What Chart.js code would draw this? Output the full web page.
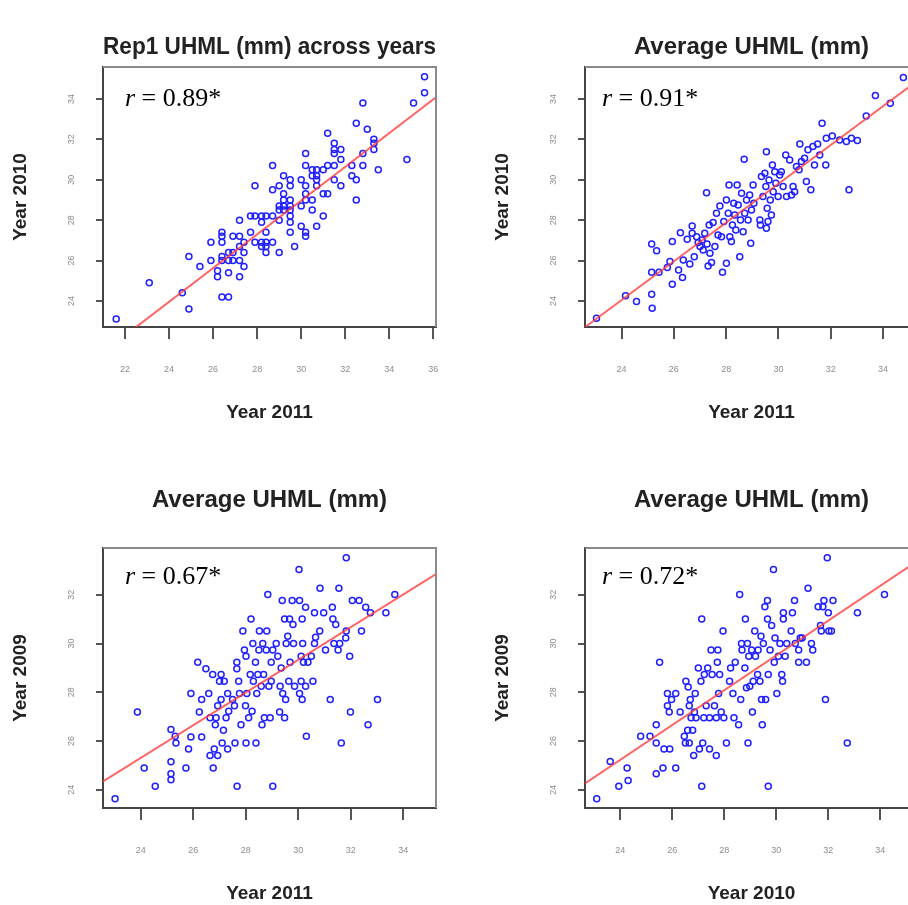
<!DOCTYPE html>
<html>
<head>
<meta charset="utf-8">
<title>UHML across years</title>
<script src="https://cdn.jsdelivr.net/npm/chart.js@4.4.0/dist/chart.umd.min.js"></script>
<style>
  html, body { margin: 0; padding: 0; background: #fff; overflow: hidden; }
  #wrap { position: relative; width: 908px; height: 905px; overflow: hidden; }
  canvas { position: absolute; }
</style>
</head>
<body>
<div id="wrap">
  <canvas id="p1" width="482" height="481" style="left:0;top:0"></canvas>
  <canvas id="p2" width="482" height="481" style="left:482px;top:0"></canvas>
  <canvas id="p3" width="482" height="481" style="left:0;top:481px"></canvas>
  <canvas id="p4" width="482" height="481" style="left:482px;top:481px"></canvas>
</div>
<script>
// panel 1: Rep1, 2011 vs 2010
var rep1_2011 = [21.6,23.1,24.6,24.9,24.9,25.4,25.9,25.9,26.2,26.2,
  26.4,26.4,26.4,26.4,26.4,26.4,26.7,26.7,26.7,26.7,26.9,26.9,26.9,
  27.2,27.2,27.2,27.2,27.2,27.4,27.4,27.4,27.7,27.7,27.9,27.9,27.9,
  28.2,28.2,28.2,28.2,28.4,28.4,28.4,28.4,28.4,28.7,28.7,28.7,28.7,
  29.0,29.0,29.0,29.0,29.0,29.2,29.2,29.2,29.2,29.2,
  29.5,29.5,29.5,29.5,29.5,29.5,29.5,29.5,29.7,30.0,30.0,30.0,
  30.2,30.2,30.2,30.2,30.2,30.2,30.2,30.5,30.5,30.5,30.5,
  30.7,30.7,30.7,30.7,30.7,31.0,31.0,31.0,31.2,31.2,31.2,
  31.5,31.5,31.5,31.5,31.5,31.8,31.8,31.8,32.3,32.3,32.5,32.5,32.5,
  32.8,32.8,32.8,33.0,33.3,33.3,33.3,33.5,34.8,35.1,35.6,35.6];
var rep1_2010 = [23.1,24.9,24.4,23.6,26.2,25.7,26.0,26.9,25.5,25.2,
  26.2,26.0,27.4,27.2,26.9,24.2,24.2,26.4,26.0,25.4,27.2,26.0,26.4,
  28.0,27.2,26.0,25.2,26.7,26.9,26.4,25.7,27.4,28.2,29.7,28.2,26.9,
  28.2,27.9,26.9,26.7,28.2,27.4,26.9,26.7,26.4,28.2,26.9,29.5,30.7,
  29.7,28.7,28.5,28.0,26.4,30.2,29.3,29.0,28.7,28.5,
  30.0,29.7,29.0,28.7,28.5,28.2,27.9,27.4,26.7,30.0,28.7,27.7,
  31.3,30.7,29.7,29.3,29.0,27.4,27.2,30.5,30.2,29.0,28.5,
  30.5,30.2,30.0,29.7,27.7,30.5,29.3,28.2,32.3,30.7,29.3,
  31.8,31.5,31.3,30.7,30.0,31.5,31.0,29.7,30.7,30.2,32.8,30.0,29.0,
  33.8,31.3,30.7,32.5,32.0,31.8,31.5,30.5,31.0,33.8,34.3,35.1];

// panel 2: average, 2011 vs 2010
var avgA_2011 = [23.04,24.15,24.57,25.15,25.17,25.15,25.43,25.15,25.34,25.75,
  25.85,25.94,25.94,26.18,26.25,26.33,26.36,26.51,26.61,26.7,
  26.7,26.78,26.87,26.93,27.0,27.08,27.12,27.18,27.25,27.27,
  27.31,27.35,27.38,27.44,27.5,27.57,27.63,27.69,27.76,27.82,
  27.86,27.91,28.01,28.01,28.08,28.11,28.14,28.2,28.24,28.29,
  28.33,28.37,28.42,28.46,28.52,28.55,28.59,28.65,28.69,28.71,
  28.78,28.84,28.9,28.94,28.97,29.03,29.06,29.29,29.31,29.35,
  29.41,29.48,29.52,29.54,29.54,29.57,29.6,29.64,29.69,29.73,
  29.77,29.8,29.86,29.9,29.99,30.05,30.11,30.18,30.28,30.31,
  30.43,30.5,30.56,30.62,30.69,30.79,30.82,30.88,31.0,31.07,
  31.13,31.24,31.32,31.38,31.5,31.58,31.67,31.81,31.83,32.06,
  32.34,32.6,32.7,32.79,33.02,33.36,33.71,34.28,34.78];
var avgA_2010 = [23.14,24.26,23.97,24.33,23.64,25.42,25.42,26.82,26.49,25.65,
  25.95,26.94,24.83,25.53,27.38,25.16,26.03,27.05,25.83,27.71,
  27.35,26.19,27.18,26.89,26.69,27.02,26.52,27.35,29.36,26.82,
  25.73,27.76,26.36,25.9,27.88,26.69,28.34,27.27,28.7,27.18,
  25.42,27.93,25.86,29.0,28.34,29.74,27.18,26.94,27.76,28.84,
  28.26,27.51,29.74,28.75,26.19,28.01,29.33,27.43,31.01,28.34,
  29.0,28.01,29.25,26.85,28.5,29.74,28.84,28.01,27.76,30.16,
  29.17,30.32,29.66,31.39,27.6,28.59,27.93,29.99,29.0,28.26,
  30.73,29.41,30.4,29.83,29.17,30.24,30.4,29.66,31.23,29.17,
  30.98,29.25,29.66,29.41,30.65,30.49,31.77,30.9,31.06,29.91,
  31.48,29.5,31.64,30.73,31.77,31.23,32.8,30.73,32.05,32.17,
  31.97,31.89,29.5,32.05,31.94,33.16,34.17,33.79,35.06];

// panel 3: average, 2011 vs 2009
var avgB_2011 = [23.02,23.87,24.13,24.55,25.15,25.15,25.15,25.15,25.31,25.34,
  25.72,25.82,25.91,25.91,26.17,26.23,26.32,26.32,26.48,26.59,
  26.64,26.64,26.74,26.76,26.8,26.84,26.87,26.93,26.93,27.0,
  27.06,27.06,27.1,27.15,27.18,27.25,27.31,27.31,27.35,27.5,
  27.57,27.59,27.66,27.66,27.67,27.73,27.76,27.82,27.89,27.95,
  27.99,28.01,28.01,28.04,28.11,28.17,28.2,28.24,28.27,28.29,
  28.37,28.39,28.42,28.46,28.5,28.52,28.59,28.62,28.65,28.68,
  28.71,28.78,28.8,28.84,28.88,28.93,28.97,28.97,29.03,29.03,
  29.16,29.22,29.29,29.31,29.35,29.39,29.41,29.48,29.48,29.52,
  29.54,29.6,29.64,29.67,29.69,29.77,29.8,29.82,29.86,30.03,
  30.05,30.05,30.11,30.11,30.15,30.15,30.17,30.2,30.28,30.28,
  30.31,30.37,30.5,30.56,30.62,30.62,30.66,30.82,30.83,30.97,
  31.04,31.22,31.3,31.32,31.36,31.43,31.52,31.55,31.58,31.64,
  31.81,31.83,31.83,31.96,31.99,32.06,32.32,32.41,32.57,32.66,
  32.75,33.02,33.34,33.68];
var avgB_2009 = [23.63,27.19,24.89,24.14,26.47,25.15,24.66,24.41,26.19,25.92,
  24.89,25.67,27.95,26.16,29.23,27.19,27.7,26.16,28.96,27.95,
  26.95,25.4,28.73,24.89,25.67,26.67,26.95,25.4,27.45,28.45,
  28.73,27.7,25.92,26.44,28.45,26.95,27.95,25.67,27.22,27.7,
  27.45,25.92,29.23,28.96,24.14,28.45,27.95,26.67,30.51,29.73,
  27.45,29.48,25.92,27.95,26.95,28.73,31.01,27.22,30.0,28.45,
  29.23,25.92,27.95,28.73,29.73,30.51,28.25,26.67,30.0,28.73,
  26.95,29.73,30.51,32.01,28.25,26.95,29.23,28.45,29.73,24.14,
  30.0,29.48,27.19,28.25,29.0,31.77,27.95,31.01,26.95,27.7,
  30.0,30.3,28.45,31.01,29.23,31.77,30.78,30.0,28.25,33.04,
  31.77,27.95,28.45,29.48,31.01,27.7,30.0,29.23,31.49,28.25,
  26.19,29.23,29.48,28.45,30.0,31.26,30.26,30.51,32.27,31.26,
  29.73,27.7,31.49,31.01,30.0,30.78,29.73,32.27,30.0,25.92,
  30.23,33.52,30.51,29.48,27.19,31.77,31.77,30.51,31.49,26.67,
  31.26,27.7,31.26,32.01];

// panel 4: average, 2010 vs 2009
var avgC_2010 = [23.09,23.61,23.94,24.26,24.3,24.78,25.14,25.38,25.38,25.38,
  25.51,25.64,25.68,25.81,25.81,25.88,25.9,25.97,26.13,26.13,
  26.3,26.46,26.5,26.52,26.59,26.61,26.65,26.65,26.69,26.72,
  26.78,26.82,26.85,26.88,26.91,27.0,27.04,27.1,27.13,27.13,
  27.17,27.21,27.23,27.3,27.36,27.43,27.43,27.49,27.53,27.62,
  27.69,27.69,27.73,27.75,27.78,27.82,27.88,27.95,27.98,28.08,
  28.2,28.24,28.33,28.37,28.42,28.55,28.59,28.63,28.66,28.68,
  28.79,28.81,28.85,28.89,28.91,28.94,28.98,29.05,29.08,29.11,
  29.17,29.2,29.28,29.3,29.37,29.41,29.43,29.46,29.5,29.56,
  29.59,29.66,29.66,29.69,29.69,29.76,29.82,29.89,29.92,29.95,
  30.02,30.08,30.14,30.21,30.24,30.27,30.27,30.34,30.4,30.57,
  30.62,30.7,30.73,30.86,30.86,30.92,30.99,31.16,31.22,31.35,
  31.4,31.61,31.7,31.73,31.79,31.83,31.89,31.96,32.0,32.02,
  32.12,32.18,32.73,33.12,34.16];
var avgC_2009 = [23.63,25.16,24.14,24.89,24.38,26.19,26.19,26.67,25.92,24.66,
  29.23,24.89,25.67,27.95,27.45,27.19,25.67,27.7,27.95,24.89,
  27.19,26.19,25.92,28.45,26.44,28.22,27.45,25.92,27.7,26.95,
  26.44,25.4,27.19,27.95,26.95,29.0,25.67,28.45,31.01,24.14,
  25.92,26.95,28.73,27.45,29.0,26.95,25.67,29.73,28.73,27.45,
  25.4,26.95,29.23,29.73,27.95,28.73,27.19,30.51,26.95,25.92,
  28.45,29.0,27.95,26.95,29.23,26.67,32.01,27.7,30.0,29.73,
  29.0,31.01,28.18,30.0,25.92,29.48,28.25,29.73,27.19,28.45,
  30.51,29.48,28.73,29.73,28.45,30.3,27.7,26.67,30.0,31.51,
  27.7,31.77,31.01,28.73,24.14,29.73,30.74,33.04,29.23,30.23,
  27.95,29.48,30.0,28.73,28.45,31.26,31.01,29.48,30.0,30.51,
  31.26,31.77,30.0,29.73,29.23,30.23,30.23,29.23,32.27,30.0,
  29.73,31.51,30.74,30.51,31.51,31.77,27.7,33.52,31.26,30.51,
  30.51,31.77,25.92,31.26,32.01];

var titles = ['Rep1 UHML (mm) across years', 'Average UHML (mm)', 'Average UHML (mm)', 'Average UHML (mm)'];
var xTitles = ['Year 2011', 'Year 2011', 'Year 2011', 'Year 2010'];
var yTitles = ['Year 2010', 'Year 2010', 'Year 2009', 'Year 2009'];
var rValues = ['0.89', '0.91', '0.67', '0.72'];
// least squares lines (intercept, slope)
var fitIntercept = [3.905, 1.03, 9.2, 8.09];
var fitSlope = [0.8355, 0.959, 0.671, 0.714];
// axis limits
var xLimits = [[21.0, 36.12], [22.6, 35.34], [22.56, 35.25], [22.64, 35.45]];
var yLimits = [[22.71, 35.58], [22.71, 35.58], [23.25, 33.92], [23.25, 33.92]];

var xData = [rep1_2011, avgA_2011, avgB_2011, avgC_2010];
var yData = [rep1_2010, avgA_2010, avgB_2009, avgC_2009];

Chart.defaults.font.family = '"Liberation Sans", Arial, sans-serif';

// R style bits: frame, rotated y tick labels, r = ... text
var rStyle = {
  id: 'rStyle',
  afterDraw: function(chart, args, opts) {
    var ctx = chart.ctx;
    var a = chart.chartArea;
    var ys = chart.scales.y;
    ctx.save();
    ctx.strokeStyle = '#8a8a8a';
    ctx.lineWidth = 2;
    ctx.beginPath();
    ctx.moveTo(a.left, a.top);
    ctx.lineTo(a.right, a.top);
    ctx.lineTo(a.right, a.bottom);
    ctx.stroke();

    ctx.fillStyle = '#8c8c8c';
    ctx.font = '9px "Liberation Sans", Arial, sans-serif';
    ctx.textAlign = 'center';
    ctx.textBaseline = 'middle';
    ys.ticks.forEach(function(t) {
      var py = ys.getPixelForValue(t.value);
      ctx.save();
      ctx.translate(a.left - 31, py);
      ctx.rotate(-Math.PI / 2);
      ctx.fillText(String(t.value), 0, 0);
      ctx.restore();
    });

    ctx.fillStyle = '#000';
    ctx.textAlign = 'left';
    ctx.textBaseline = 'alphabetic';
    var x0 = a.left + opts.dx;
    var y0 = a.top + opts.dy;
    ctx.font = 'italic 26px "Liberation Serif", "Times New Roman", serif';
    ctx.fillText('r', x0, y0);
    var w = ctx.measureText('r').width;
    ctx.font = '26px "Liberation Serif", "Times New Roman", serif';
    ctx.fillText(' = ' + opts.r + '*', x0 + w, y0);
    ctx.restore();
  }
};

function makePanel(i) {
  var pts = xData[i].map(function(x, k) { return {x: x, y: yData[i][k]}; });
  var x0 = xLimits[i][0], x1 = xLimits[i][1];
  var fit = [
    {x: x0, y: fitIntercept[i] + fitSlope[i] * x0},
    {x: x1, y: fitIntercept[i] + fitSlope[i] * x1}
  ];
  var topRow = i < 2;
  var leftCol = i % 2 === 0;

  new Chart(document.getElementById('p' + (i + 1)), {
    type: 'scatter',
    data: {
      datasets: [
        {
          data: fit,
          showLine: true,
          borderColor: 'rgba(255,60,60,0.8)',
          borderWidth: 2,
          pointRadius: 0
        },
        {
          data: pts,
          pointStyle: 'circle',
          pointRadius: 3,
          borderWidth: 1.5,
          borderColor: '#1f1fff',
          backgroundColor: 'rgba(0,0,0,0)'
        }
      ]
    },
    options: {
      responsive: false,
      animation: false,
      devicePixelRatio: 1,
      events: [],
      layout: { padding: { right: 46 } },
      plugins: {
        legend: { display: false },
        tooltip: { enabled: false },
        title: {
          display: true,
          fullSize: false,
          text: titles[i],
          color: '#222',
          font: { size: 24, weight: 'bold' },
          padding: topRow ? { top: 32.6, bottom: 5.6 } : { top: 4.6, bottom: 33.6 }
        },
        rStyle: {
          r: rValues[i],
          dx: leftCol ? 22 : 17,
          dy: topRow ? 39 : 36
        }
      },
      scales: {
        x: {
          type: 'linear',
          min: x0,
          max: x1,
          ticks: {
            stepSize: 2,
            includeBounds: false,
            color: '#8c8c8c',
            font: { size: 9 },
            padding: 25
          },
          grid: { drawOnChartArea: false, drawTicks: true, tickLength: 12, color: '#555', lineWidth: 2 },
          border: { display: true, color: '#444', width: 2 },
          title: {
            display: true,
            text: xTitles[i],
            color: '#222',
            font: { size: 19, weight: 'bold' },
            padding: { top: 0, bottom: 56.6 }
          },
          afterFit: function(s) { s.height = 154; }
        },
        y: {
          type: 'linear',
          min: yLimits[i][0],
          max: yLimits[i][1],
          ticks: { display: false, stepSize: 2, includeBounds: false },
          grid: { drawOnChartArea: false, drawTicks: true, tickLength: 7, color: '#555', lineWidth: 2 },
          border: { display: true, color: '#444', width: 2 },
          title: {
            display: true,
            text: yTitles[i],
            color: '#222',
            font: { size: 19, weight: 'bold' },
            padding: { top: 9.6, bottom: 0 }
          },
          afterFit: function(s) { s.width = 103; }
        }
      }
    },
    plugins: [rStyle]
  });
}

for (var i = 0; i < 4; i++) {
  makePanel(i);
}
</script>
</body>
</html>
